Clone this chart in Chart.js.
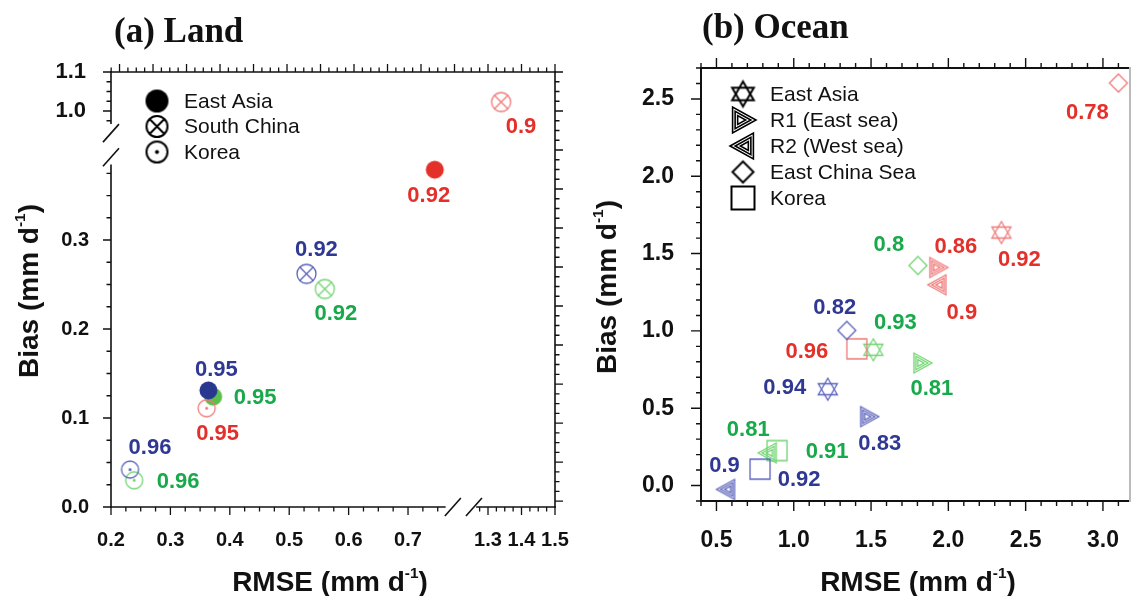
<!DOCTYPE html>
<html>
<head>
<meta charset="utf-8">
<script src="https://cdn.jsdelivr.net/npm/chart.js@4"></script>
<style>
  html, body { margin: 0; padding: 0; background: #fff; }
  body { width: 1133px; height: 596px; position: relative; overflow: hidden; }
  .panel { position: absolute; top: 0; height: 596px; }
  .title { position: absolute; font: bold 35px "Liberation Serif", serif; line-height: 35px; white-space: nowrap; color: #111; }
  .axt { position: absolute; font: bold 28px "Liberation Sans", sans-serif; line-height: 28px; white-space: nowrap; color: #111; }
  .axt sup { font-size: 0.55em; line-height: 0; vertical-align: baseline; position: relative; top: -0.85em; }
  .rot { transform: translate(-50%, -50%) rotate(-90deg); }
  .hc { transform: translateX(-50%); }
</style>
</head>
<body>
<div class="panel" style="left:0;width:620px"><canvas id="land"></canvas></div>
<div class="panel" style="left:590px;width:580px"><canvas id="ocean"></canvas></div>

<div class="title" style="left:114px;top:13px">(a) Land</div>
<div class="title" style="left:702px;top:9px">(b) Ocean</div>
<div class="axt hc" style="left:330px;top:568px">RMSE (mm d<sup>-1</sup>)</div>
<div class="axt hc" style="left:918px;top:568px">RMSE (mm d<sup>-1</sup>)</div>
<div class="axt rot" style="left:29px;top:291px">Bias (mm d<sup>-1</sup>)</div>
<div class="axt rot" style="left:607px;top:287px">Bias (mm d<sup>-1</sup>)</div>

<script>
// ---- (a) Land : regions East Asia, South China, Korea
const landRegions = ["East Asia", "South China", "Korea"];
const landRmseRed   = [0.745, 1.339, 0.361];
const landBiasRed   = [0.379, 1.023, 0.111];
const landCorrRed   = [0.92, 0.9, 0.95];
const landRmseGreen = [0.372, 0.560, 0.239];
const landBiasGreen = [0.124, 0.245, 0.030];
const landCorrGreen = [0.95, 0.92, 0.96];
const landRmseBlue  = [0.364, 0.529, 0.232];
const landBiasBlue  = [0.131, 0.262, 0.042];
const landCorrBlue  = [0.95, 0.92, 0.96];
const landXTickLabels = ["0.2", "0.3", "0.4", "0.5", "0.6", "0.7", "1.3", "1.4", "1.5"];
const landYTickLabels = ["0.0", "0.1", "0.2", "0.3", "1.0", "1.1"];

// ---- (b) Ocean
const oceanRegions = ["East Asia", "R1 (East sea)", "R2 (West sea)", "East China Sea", "Korea"];
const oceanRmseRed   = [2.343, 1.932, 1.932, 3.10, 1.408];
const oceanBiasRed   = [1.636, 1.410, 1.298, 2.603, 0.884];
const oceanCorrRed   = [0.92, 0.86, 0.9, 0.78, 0.96];
const oceanRmseGreen = [1.515, 1.829, 0.835, 1.803, 0.892];
const oceanBiasGreen = [0.878, 0.792, 0.211, 1.423, 0.226];
const oceanCorrGreen = [0.93, 0.81, 0.81, 0.8, 0.91];
const oceanRmseBlue  = [1.220, 1.485, 0.565, 1.343, 0.782];
const oceanBiasBlue  = [0.623, 0.446, -0.025, 1.003, 0.106];
const oceanCorrBlue  = [0.94, 0.83, 0.9, 0.82, 0.92];
const oceanXTickLabels = ["0.5", "1.0", "1.5", "2.0", "2.5", "3.0"];
const oceanYTickLabels = ["0.0", "0.5", "1.0", "1.5", "2.0", "2.5"];

// axis ranges (land axes are broken in two pieces)
const landXLow = [0.2, 0.7875], landXHigh = [1.2164, 1.5];
const landYLow = [0, 0.4079], landYHigh = [0.9154, 1.1];
const landXShown = [0.762, 1.267], landYShown = [0.384, 0.969];
const oceanX = [0.4, 3.175], oceanY = [-0.1, 2.7];

// label offsets (px) from each marker, same order as regions
const landOffRed   = [[-6, 26], [20, 25], [11, 26]];
const landOffGreen = [[42, 1], [11, 25], [44, 2]];
const landOffBlue  = [[8, -20], [10, -24], [20, -22]];
const oceanOffRed   = [[18, 27], [18, -21], [24, 28], [-31, 30], [-50, 3]];
const oceanOffGreen = [[22, -27], [10, 26], [-20, -23], [-29, -21], [50, 1]];
const oceanOffBlue  = [[-43, -1], [11, 27], [-2, -23], [-12, -22], [39, 11]];

const colors = {
  red:   { label: "#e3302b", line: "#f07878", fill: "#e3312a" },
  green: { label: "#17a94a", line: "#72d472", fill: "#5cbf4a" },
  blue:  { label: "#2f3893", line: "#5a62bb", fill: "#28388f" }
};

function makeMarker(kind, color, r, lw) {
  const dim = Math.ceil(2 * r + lw + 4);
  const c = document.createElement("canvas");
  c.width = c.height = dim;
  const g = c.getContext("2d");
  g.translate(dim / 2, dim / 2);
  g.strokeStyle = color;
  g.fillStyle = color;
  g.lineWidth = lw;
  const poly = pts => {
    g.beginPath();
    pts.forEach(([x, y], i) => (i ? g.lineTo(x, y) : g.moveTo(x, y)));
    g.closePath();
    g.stroke();
  };
  const circle = rr => { g.beginPath(); g.arc(0, 0, rr, 0, 2 * Math.PI); g.stroke(); };
  if (kind === "dot") {
    g.beginPath(); g.arc(0, 0, r, 0, 2 * Math.PI); g.fill();
  } else if (kind === "circX") {
    circle(r);
    const d = r * Math.SQRT1_2;
    g.beginPath();
    g.moveTo(-d, -d); g.lineTo(d, d);
    g.moveTo(d, -d); g.lineTo(-d, d);
    g.stroke();
  } else if (kind === "circDot") {
    circle(r);
    g.beginPath(); g.arc(0, 0, Math.max(1.5, lw), 0, 2 * Math.PI); g.fill();
  } else if (kind === "star") {
    const tri = a0 => [0, 1, 2].map(k => {
      const a = a0 + k * 2 * Math.PI / 3;
      return [r * Math.cos(a), r * Math.sin(a)];
    });
    poly(tri(-Math.PI / 2));
    poly(tri(Math.PI / 2));
  } else if (kind === "triR" || kind === "triL") {
    const s = kind === "triR" ? 1 : -1;
    const base = [[-0.8 * r, -r], [-0.8 * r, r], [r, 0]];
    const cx = -0.21 * r;
    [1, 0.67, 0.34].forEach(f => poly(base.map(([x, y]) => [s * (cx + (x - cx) * f), y * f])));
  } else if (kind === "diamond") {
    poly([[0, -r], [r, 0], [0, r], [-r, 0]]);
  } else if (kind === "square") {
    poly([[-r, -r], [r, -r], [r, r], [-r, r]]);
  }
  return c;
}

// axis lines, tick marks and break marks
function framePlugin(cfg) {
  return {
    id: "frame",
    beforeDatasetsDraw(chart) {
      const ctx = chart.ctx, a = chart.chartArea;
      ctx.save();
      cfg.segments.forEach(s => {
        const sc = chart.scales[s.scale];
        const horiz = s.side === "top" || s.side === "bottom";
        let lo = s.lo, hi = s.hi;
        if (s.full) {
          lo = sc.getValueForPixel(horiz ? a.left : a.bottom);
          hi = sc.getValueForPixel(horiz ? a.right : a.top);
        }
        const p0 = sc.getPixelForValue(lo), p1 = sc.getPixelForValue(hi);
        const base = a[s.side];
        const dir = (s.side === "bottom" || s.side === "right") ? 1 : -1;
        ctx.strokeStyle = s.color || cfg.color;
        ctx.lineWidth = cfg.lw;
        ctx.lineCap = "square";
        ctx.beginPath();
        if (horiz) { ctx.moveTo(p0, base); ctx.lineTo(p1, base); }
        else { ctx.moveTo(base, p0); ctx.lineTo(base, p1); }
        ctx.stroke();
        if (s.noTicks) return;
        ctx.lineCap = "butt";
        ctx.lineWidth = cfg.tickW;
        const n0 = Math.ceil(Math.min(lo, hi) / s.minor - 1e-6);
        const n1 = Math.floor(Math.max(lo, hi) / s.minor + 1e-6);
        ctx.beginPath();
        for (let n = n0; n <= n1; n++) {
          const v = n * s.minor, q = v / s.major;
          const len = Math.abs(q - Math.round(q)) < 1e-6 ? cfg.majorLen : cfg.minorLen;
          const p = sc.getPixelForValue(v);
          if (horiz) { ctx.moveTo(p, base); ctx.lineTo(p, base + dir * len); }
          else { ctx.moveTo(base, p); ctx.lineTo(base + dir * len, p); }
        }
        ctx.stroke();
      });
      ctx.lineWidth = cfg.lw;
      ctx.lineCap = "butt";
      ctx.strokeStyle = cfg.color;
      (cfg.slashes || []).forEach(s => {
        const p = chart.scales[s.scale].getPixelForValue(s.value) + s.shift;
        const cx = s.side === "bottom" ? p : a.left;
        const cy = s.side === "bottom" ? a.bottom : p;
        ctx.beginPath();
        ctx.moveTo(cx - 8, cy + 9);
        ctx.lineTo(cx + 8, cy - 9);
        ctx.stroke();
      });
      ctx.restore();
    }
  };
}

// correlation numbers next to each marker
const corrLabels = {
  id: "corrLabels",
  afterDatasetsDraw(chart) {
    const ctx = chart.ctx;
    ctx.save();
    ctx.font = 'bold 22px "Liberation Sans"';
    ctx.textAlign = "center";
    ctx.textBaseline = "middle";
    chart.data.datasets.forEach((ds, i) => {
      const el = chart.getDatasetMeta(i).data[0];
      ctx.fillStyle = ds.labelColor;
      ctx.fillText(String(ds.corr), el.x + ds.labelOffset[0], el.y + ds.labelOffset[1]);
    });
    ctx.restore();
  }
};

function legendPlugin(items, o) {
  return {
    id: "markerLegend",
    afterDraw(chart) {
      const ctx = chart.ctx, a = chart.chartArea;
      ctx.save();
      ctx.font = '21px "Liberation Sans"';
      ctx.fillStyle = "#111";
      ctx.textAlign = "left";
      ctx.textBaseline = "middle";
      items.forEach((it, k) => {
        const x = a.left + o.x, y = a.top + o.y + k * o.rowH;
        ctx.drawImage(it.marker, x - it.marker.width / 2, y - it.marker.height / 2);
        ctx.fillText(it.text, x + o.textDx, y + 1);
      });
      ctx.restore();
    }
  };
}

function tickFmt(list) {
  return v => {
    const t = Number(v).toFixed(1);
    return list.includes(t) ? t : "";
  };
}

function axis(range, step, labels, font, pad, fitKey, fitVal, extra) {
  return Object.assign({
    type: "linear",
    min: range[0],
    max: range[1],
    grid: { display: false, drawTicks: false },
    border: { display: false },
    ticks: {
      stepSize: step,
      autoSkip: false,
      maxRotation: 0,
      minRotation: 0,
      includeBounds: false,
      padding: pad,
      color: "#111",
      font: { family: "Liberation Sans", size: font, weight: "bold" },
      callback: tickFmt(labels)
    },
    afterFit: s => { s[fitKey] = fitVal; }
  }, extra);
}

// ---------- Land chart ----------
const landKinds = ["dot", "circX", "circDot"];
const landSeries = [
  { c: colors.blue,  x: landRmseBlue,  y: landBiasBlue,  r: landCorrBlue,  off: landOffBlue },
  { c: colors.red,   x: landRmseRed,   y: landBiasRed,   r: landCorrRed,   off: landOffRed },
  { c: colors.green, x: landRmseGreen, y: landBiasGreen, r: landCorrGreen, off: landOffGreen }
];
const landSets = [];
landSeries.forEach(s => s.x.forEach((x, i) => {
  const y = s.y[i];
  const kind = landKinds[i];
  const mk = kind === "dot"
    ? makeMarker("dot", s.c.fill, 9, 1)
    : makeMarker(kind, s.c.line, kind === "circX" ? 9.5 : 8.5, 1.3);
  landSets.push({
    label: landRegions[i],
    data: [{ x, y }],
    xAxisID: x > landXLow[1] ? "xHigh" : "xLow",
    yAxisID: y > landYLow[1] ? "yHigh" : "yLow",
    pointStyle: mk,
    pointRadius: 10,
    corr: s.r[i],
    labelColor: s.c.label,
    labelOffset: s.off[i]
  });
}));

new Chart(document.getElementById("land"), {
  type: "scatter",
  data: { datasets: landSets },
  options: {
    responsive: true,
    maintainAspectRatio: false,
    animation: false,
    events: [],
    layout: { padding: { left: 0, top: 72, right: 65, bottom: 29 } },
    plugins: { legend: { display: false }, tooltip: { enabled: false } },
    scales: {
      xLow: axis(landXLow, 0.1, landXTickLabels, 20, 21, "height", 60,
        { position: "bottom", stack: "x", stackWeight: 349 }),
      xHigh: axis(landXHigh, 0.1, landXTickLabels, 20, 21, "height", 60,
        { position: "bottom", stack: "x", stackWeight: 95 }),
      yLow: axis(landYLow, 0.1, landYTickLabels, 20, 22, "width", 111,
        { position: "left", stack: "y", stackWeight: 363 }),
      yHigh: axis(landYHigh, 0.1, landYTickLabels, 22, 25, "width", 111,
        { position: "left", stack: "y", stackWeight: 72 })
    }
  },
  plugins: [
    framePlugin({
      color: "#111", lw: 1.6, tickW: 1.3, majorLen: 8, minorLen: 4.5,
      segments: [
        { scale: "xLow", side: "bottom", lo: landXLow[0], hi: landXShown[0], major: 0.1, minor: 0.025 },
        { scale: "xHigh", side: "bottom", lo: landXShown[1], hi: landXHigh[1], major: 0.1, minor: 0.025 },
        { scale: "yLow", side: "left", lo: landYLow[0], hi: landYShown[0], major: 0.1, minor: 0.025 },
        { scale: "yHigh", side: "left", lo: landYShown[1], hi: landYHigh[1], major: 0.1, minor: 0.025 },
        { scale: "xHigh", side: "top", full: true, major: 0.1, minor: 0.025 },
        { scale: "yHigh", side: "right", full: true, major: 0.1, minor: 0.025 }
      ],
      slashes: [
        { scale: "xLow", value: landXShown[0], shift: 8, side: "bottom" },
        { scale: "xHigh", value: landXShown[1], shift: -3, side: "bottom" },
        { scale: "yHigh", value: landYShown[1], shift: 10, side: "left" },
        { scale: "yLow", value: landYShown[0], shift: -8, side: "left" }
      ]
    }),
    corrLabels,
    legendPlugin(landRegions.map((t, i) => ({
      text: t,
      marker: makeMarker(landKinds[i], "#000", i === 0 ? 11.5 : 10.5, 2)
    })), { x: 46, y: 29, rowH: 25.5, textDx: 27 })
  ]
});

// ---------- Ocean chart ----------
const oceanKinds = ["star", "triR", "triL", "diamond", "square"];
const oceanSize = { star: 11, triR: 10, triL: 10, diamond: 9, square: 10 };
const oceanSeries = [
  { c: colors.blue,  x: oceanRmseBlue,  y: oceanBiasBlue,  r: oceanCorrBlue,  off: oceanOffBlue },
  { c: colors.red,   x: oceanRmseRed,   y: oceanBiasRed,   r: oceanCorrRed,   off: oceanOffRed },
  { c: colors.green, x: oceanRmseGreen, y: oceanBiasGreen, r: oceanCorrGreen, off: oceanOffGreen }
];
const oceanSets = [];
oceanSeries.forEach(s => s.x.forEach((x, i) => {
  const kind = oceanKinds[i];
  oceanSets.push({
    label: oceanRegions[i],
    data: [{ x, y: s.y[i] }],
    xAxisID: "x",
    yAxisID: "y",
    pointStyle: makeMarker(kind, s.c.line, oceanSize[kind], 1.3),
    pointRadius: 10,
    corr: s.r[i],
    labelColor: s.c.label,
    labelOffset: s.off[i]
  });
}));

new Chart(document.getElementById("ocean"), {
  type: "scatter",
  data: { datasets: oceanSets },
  options: {
    responsive: true,
    maintainAspectRatio: false,
    animation: false,
    events: [],
    layout: { padding: { left: 0, top: 68, right: 40, bottom: 35 } },
    plugins: { legend: { display: false }, tooltip: { enabled: false } },
    scales: {
      x: axis(oceanX, 0.5, oceanXTickLabels, 23, 26, "height", 60, { position: "bottom" }),
      y: axis(oceanY, 0.5, oceanYTickLabels, 23, 27, "width", 111, { position: "left" })
    }
  },
  plugins: [
    framePlugin({
      color: "#111", lw: 2, tickW: 1.4, majorLen: 10, minorLen: 5,
      segments: [
        { scale: "x", side: "bottom", full: true, major: 0.5, minor: 0.1 },
        { scale: "x", side: "top", full: true, major: 0.5, minor: 0.1 },
        { scale: "y", side: "left", full: true, major: 0.5, minor: 0.1 },
        { scale: "y", side: "right", full: true, major: 0.5, minor: 0.1, color: "#bbb", noTicks: true }
      ]
    }),
    corrLabels,
    legendPlugin(oceanRegions.map((t, i) => {
      const k = oceanKinds[i];
      const tri = k === "triR" || k === "triL";
      return { text: t, marker: makeMarker(k, "#000", oceanSize[k] + (tri ? 3 : 1.5), tri ? 1.6 : 2) };
    }), { x: 42, y: 26, rowH: 26, textDx: 27 })
  ]
});
</script>
</body>
</html>
